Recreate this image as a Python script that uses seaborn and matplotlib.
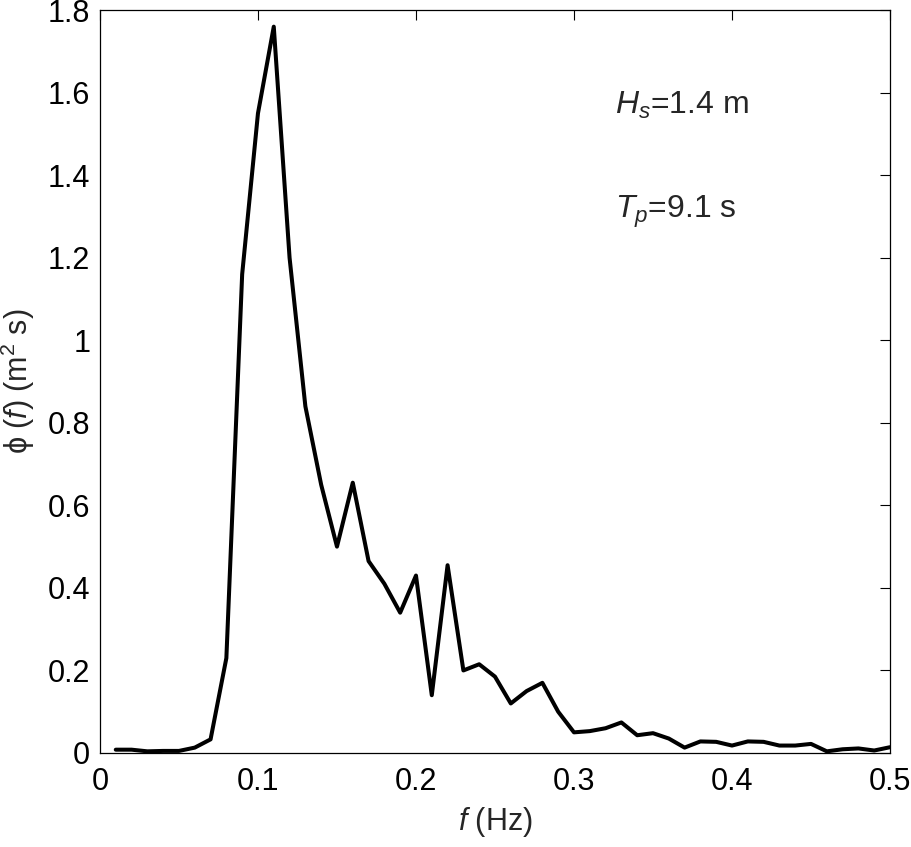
import numpy as np
import pandas as pd
import matplotlib
matplotlib.use('Agg')
import matplotlib.pyplot as plt
import seaborn as sns

# wave spectrum
freq = [0.01, 0.02, 0.03, 0.04, 0.05, 0.06, 0.07, 0.08, 0.09, 0.10,
        0.11, 0.12, 0.13, 0.14, 0.15, 0.16, 0.17, 0.18, 0.19, 0.20,
        0.21, 0.22, 0.23, 0.24, 0.25, 0.26, 0.27, 0.28, 0.29, 0.30,
        0.31, 0.32, 0.33, 0.34, 0.35, 0.36, 0.37, 0.38, 0.39, 0.40,
        0.41, 0.42, 0.43, 0.44, 0.45, 0.46, 0.47, 0.48, 0.49, 0.50]
energy = [0.008, 0.008, 0.004, 0.005, 0.005, 0.013, 0.033, 0.23, 1.16, 1.55,
          1.76, 1.20, 0.84, 0.65, 0.50, 0.655, 0.465, 0.41, 0.34, 0.43,
          0.14, 0.455, 0.20, 0.215, 0.185, 0.12, 0.15, 0.17, 0.10, 0.05,
          0.053, 0.06, 0.074, 0.043, 0.048, 0.035, 0.013, 0.028, 0.027, 0.018,
          0.028, 0.027, 0.018, 0.018, 0.022, 0.004, 0.009, 0.011, 0.006, 0.014]

xticks = [0, 0.1, 0.2, 0.3, 0.4, 0.5]
xlabels = ['0', '0.1', '0.2', '0.3', '0.4', '0.5']
yticks = [0, 0.2, 0.4, 0.6, 0.8, 1.0, 1.2, 1.4, 1.6, 1.8]
ylabels = ['0', '0.2', '0.4', '0.6', '0.8', '1', '1.2', '1.4', '1.6', '1.8']

df = pd.DataFrame({'f': freq, 'phi': energy})

sns.set_style('white')
plt.rcParams['font.family'] = ['Liberation Sans', 'DejaVu Sans']
plt.rcParams['mathtext.fontset'] = 'custom'
plt.rcParams['mathtext.rm'] = 'Liberation Sans'
plt.rcParams['mathtext.it'] = 'Liberation Sans:italic'

fig = plt.figure(figsize=(9.12, 8.47), dpi=100)
ax = fig.add_axes([0.1096, 0.111, 0.8663, 0.877])

sns.lineplot(data=df, x='f', y='phi', color='black', linewidth=2.9, ax=ax)

ax.set_xlim(0, 0.5)
ax.set_ylim(0, 1.8)
ax.set_xticks(xticks)
ax.set_xticklabels(xlabels, fontsize=22)
ax.set_yticks(yticks)
ax.set_yticklabels(ylabels, fontsize=22)
ax.tick_params(axis='x', pad=10)
ax.tick_params(axis='y', pad=7)
ax.tick_params(direction='in', length=7, width=0.8, top=True, right=True, colors='black')
for s in ax.spines.values():
    s.set_color('black')
    s.set_linewidth(0.9)

ax.set_xlabel(r'$f$ (Hz)', fontsize=22, labelpad=6)
ax.set_ylabel(r'ϕ ($f$) (m$^2$ s)', fontsize=22, labelpad=8)

ax.text(0.326, 1.57, r'$H_s$=1.4 m', fontsize=23, va='center')
ax.text(0.326, 1.31, r'$T_p$=9.1 s', fontsize=23, va='center')

fig.savefig('out.png', dpi=100, facecolor='white')
